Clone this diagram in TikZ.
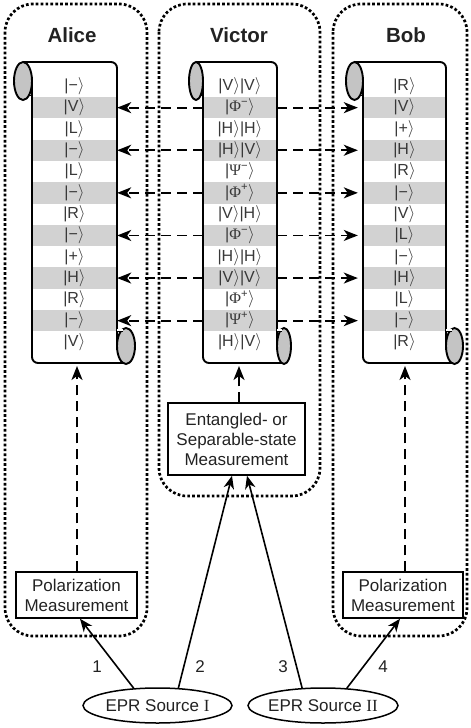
\documentclass[tikz,border=0pt]{standalone}
\usepackage{fontspec}
\setmainfont{Liberation Sans}
\newfontfamily\grk{Liberation Serif}
\usetikzlibrary{arrows.meta,calc,shapes.geometric}
\definecolor{band}{HTML}{D2D2D2}
\definecolor{curlc}{HTML}{C4C4C4}
\definecolor{ketc}{HTML}{383838}
\definecolor{txtc}{HTML}{222222}
\newcommand\kt[1]{|#1$\rangle$}
\newcommand\gk[2]{\kt{{\grk #1}\textsuperscript{#2}}}
\newcommand\drawscroll[5]{%
  \fill[white] ({#1-#3},62) rectangle (#2,363);
  \foreach \k in {2,4,...,12}
    \fill[band] (#1,{75.7+21.3*(\k-1)}) rectangle (#2,{75.7+21.3*\k});
  \foreach \e [count=\i] in {#5}
    \node[row, minimum width={#2-#1}] (#4\i) at ({(#1+#2)/2},{75.7+21.3*(\i-0.5)}) {\e};
  \draw[scrl] ({#1-#3},62) -- (#2,62) -- (#2,346);
  \draw[scrl] (#1,81) -- (#1,363) -- ({#2+#3},363);
  \draw[scrl, fill=curlc] ({#1-#3},81) ellipse [x radius=#3, y radius=19];
  \draw[line width=1.3pt] ({#1-0.45*#3},95.5) -- (#1,95.5);
  \draw[scrl, fill=curlc] ({#2+#3},346) ellipse [x radius=#3, y radius=18];
  \fill[white] ({#2+0.4},329) rectangle ({#2+0.7*#3},331.5);
  \draw[line width=1.3pt] (#2,331.5) -- ({#2+0.7*#3},331.5);
}
\begin{document}
\begin{tikzpicture}[x=1pt,y=-1pt,
  dotbox/.style={line width=2.7pt, dash pattern=on 2.7pt off 2.2pt, rounded corners=28pt},
  title/.style={font=\fontsize{20.5}{24}\selectfont\bfseries, anchor=base, text=txtc},
  row/.style={font=\fontsize{16}{19}\selectfont, text=ketc, inner sep=0pt, minimum height=21.3pt},
  scrl/.style={line width=1.9pt, rounded corners=6pt},
  tip/.style={-{Stealth[length=14pt,width=11pt,inset=4pt]}},
  dasharr/.style={tip, line width=1.8pt, dash pattern=on 10pt off 6pt},
  solarr/.style={-{Stealth[length=13pt,width=10.5pt,inset=4pt]}, line width=1.6pt},
  box/.style={draw, line width=1.5pt, font=\fontsize{17}{20}\selectfont, text=txtc, align=center, inner sep=0pt},
  src/.style={draw, ellipse, line width=1.5pt, font=\fontsize{17}{20}\selectfont, text=txtc, inner xsep=-14pt, inner ysep=-3pt},
  num/.style={font=\fontsize{17}{20}\selectfont, text=txtc, inner sep=0pt}
]
\useasboundingbox (0,0) rectangle (471,728);
\draw[dotbox] (5,4) rectangle (147,636);
\draw[dotbox] (159,4) rectangle (320,496);
\draw[dotbox] (333,4) rectangle (467,636);

\node[title] (tA) at (72,42) {Alice};
\node[title] (tV) at (239,42) {Victor};
\node[title] (tB) at (406,42) {Bob};

\drawscroll{32}{117}{9}{a}{\kt{−},\kt{V},\kt{L},\kt{−},\kt{L},\kt{−},\kt{R},\kt{−},\kt{+},\kt{H},\kt{R},\kt{−},\kt{V}}
\drawscroll{203}{277}{7}{v}{\kt{V}\kt{V},\gk{Φ}{−},\kt{H}\kt{H},\kt{H}\kt{V},\gk{Ψ}{−},\gk{Φ}{+},\kt{V}\kt{H},\gk{Φ}{−},\kt{H}\kt{H},\kt{V}\kt{V},\gk{Φ}{+},\gk{Ψ}{+},\kt{H}\kt{V}}
\drawscroll{363}{446}{8.5}{b}{\kt{R},\kt{V},\kt{+},\kt{H},\kt{R},\kt{−},\kt{V},\kt{L},\kt{−},\kt{H},\kt{L},\kt{−},\kt{R}}

\foreach \k in {2,4,...,12}{
  \draw[dasharr] (v\k.west) -- (a\k.east);
  \draw[dasharr, shorten >=5pt] (v\k.east) -- (b\k.west);
}

\coordinate (aS) at (77,366);
\coordinate (vS) at (239,366);
\coordinate (bS) at (405,366);

\node[box, minimum width=121pt, minimum height=46pt] (apm) at (76.5,595) {Polarization\\Measurement};
\node[box, minimum width=120pt, minimum height=46pt] (bpm) at (403,595) {Polarization\\Measurement};
\node[box, minimum width=137pt, minimum height=72pt] (vpm) at (236.5,439) {Entangled- or\\Separable-state\\Measurement};

\draw[dasharr] (apm.north -| aS) -- (aS);
\draw[dasharr] (vpm.north -| vS) -- (vS);
\draw[dasharr] (bpm.north -| bS) -- (bS);

\node[src, minimum width=149pt, minimum height=35pt] (s1) at (157.5,705.5) {EPR Source {\grk I}};
\node[src, minimum width=150pt, minimum height=35pt] (s2) at (323,705.5) {EPR Source {\grk II}};

\draw[solarr] (s1.144) -- ($(apm.south)+(3.5,0)$);
\draw[solarr] (s1.40) -- ($(vpm.south)+(-4.5,0)$);
\draw[solarr] (s2.140) -- ($(vpm.south)+(10.5,0)$);
\draw[solarr] (s2.36) -- ($(bpm.south)+(-3,0)$);

\node[num] (n1) at (97,667) {1};
\node[num] (n2) at (200,667) {2};
\node[num] (n3) at (283,667) {3};
\node[num] (n4) at (383,667) {4};
\end{tikzpicture}
\end{document}
